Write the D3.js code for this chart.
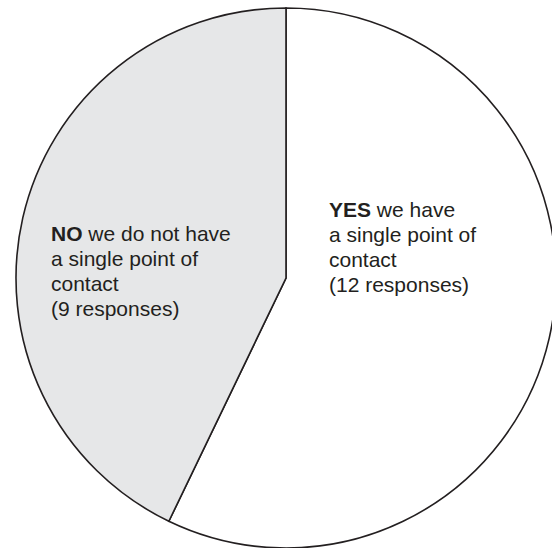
<!DOCTYPE html>
<html>
<head>
<meta charset="utf-8">
<script src="https://cdn.jsdelivr.net/npm/d3@7"></script>
<style>
  html, body { margin: 0; padding: 0; background: #ffffff; }
  svg { display: block; }
  text { font-family: "Liberation Sans", Arial, Helvetica, sans-serif; fill: #231f20; }
</style>
</head>
<body>
<svg id="chart" width="552" height="548"></svg>
<script>
// Survey answers: does the organisation have a single point of contact?
const answers = ["YES", "NO"];
const responses = [12, 9];
const headlines = ["YES", "NO"];
const labelLines = [
  [" we have", "a single point of", "contact", "(12 responses)"],
  [" we do not have", "a single point of", "contact", "(9 responses)"]
];
const fills = ["#ffffff", "#e6e7e8"];

const width = 552, height = 548;
const cx = 286, cy = 278, radius = 270;

const svg = d3.select("#chart");
const g = svg.append("g").attr("transform", `translate(${cx},${cy})`);

const data = answers.map((a, i) => ({ answer: a, value: responses[i], i }));

const pie = d3.pie().sort(null).value(d => d.value);
const arc = d3.arc().innerRadius(0).outerRadius(radius);

g.selectAll("path.slice")
  .data(pie(data))
  .join("path")
  .attr("class", "slice")
  .attr("d", arc)
  .attr("fill", d => fills[d.data.i])
  .attr("stroke", "#231f20")
  .attr("stroke-width", 1.6)
  .attr("stroke-linejoin", "miter");

// Label blocks, placed relative to the pie centre
const labelPos = [
  { x: 43, y: -61 },   // YES block
  { x: -235, y: -37 }  // NO block
];
const lineH = 25;

labelLines.forEach((lines, i) => {
  const t = g.append("text")
    .attr("x", labelPos[i].x)
    .attr("y", labelPos[i].y)
    .style("font-size", "21px");
  const first = t.append("tspan").attr("x", labelPos[i].x).attr("dy", 0);
  first.append("tspan").style("font-weight", "bold").text(headlines[i]);
  first.append("tspan").text(lines[0]);
  lines.slice(1).forEach((ln, k) => {
    t.append("tspan")
      .attr("x", labelPos[i].x)
      .attr("y", labelPos[i].y + lineH * (k + 1))
      .text(ln);
  });
});
</script>
</body>
</html>
